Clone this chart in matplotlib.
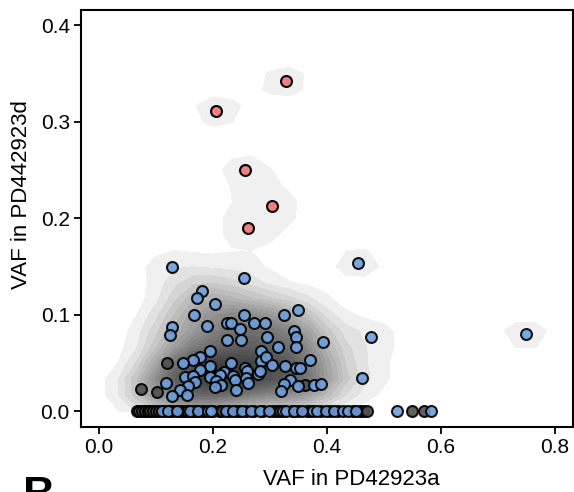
import matplotlib; matplotlib.use('Agg')

import matplotlib.pyplot as plt
import numpy as np

plt.rcParams['font.family'] = ['Liberation Sans', 'DejaVu Sans']

# variants found in both samples
blue_x = [0.128, 0.2545, 0.455, 0.749, 0.1815, 0.172, 0.204, 0.166, 0.2545, 0.3245,
          0.349, 0.128, 0.124, 0.1886, 0.2247, 0.2324, 0.247, 0.272, 0.2907, 0.343,
          0.346, 0.2254, 0.250, 0.2948, 0.393, 0.478, 0.345, 0.314, 0.285, 0.1944,
          0.178, 0.165, 0.1477, 0.2324, 0.285, 0.2937, 0.304, 0.3257, 0.345, 0.352,
          0.371, 0.194, 0.178, 0.219, 0.212, 0.2557, 0.260, 0.279, 0.282, 0.235,
          0.238, 0.1506, 0.165, 0.168, 0.194, 0.206, 0.2148, 0.203, 0.2574, 0.2615,
          0.241, 0.1564, 0.1419, 0.1536, 0.1273, 0.1173, 0.3345, 0.324, 0.32, 0.350,
          0.378, 0.39, 0.4618]
blue_y = [0.150, 0.138, 0.1535, 0.0797, 0.125, 0.117, 0.111, 0.100, 0.100, 0.100,
          0.105, 0.087, 0.0786, 0.0883, 0.091, 0.091, 0.0855, 0.0914, 0.091, 0.0835,
          0.077, 0.074, 0.074, 0.077, 0.0714, 0.077, 0.0666, 0.0666, 0.063, 0.0628,
          0.056, 0.0535, 0.050, 0.050, 0.0524, 0.0562, 0.0476, 0.0473, 0.0452, 0.0452,
          0.0528, 0.0466, 0.0424, 0.0404, 0.038, 0.0449, 0.0418, 0.039, 0.0414, 0.0369,
          0.0328, 0.0352, 0.0362, 0.030, 0.0352, 0.031, 0.0276, 0.0252, 0.0345, 0.0294,
          0.0224, 0.0259, 0.0224, 0.0166, 0.0155, 0.0294, 0.032, 0.0283, 0.0207, 0.0259,
          0.0276, 0.0283, 0.0345]

dark_x = [0.1185, 0.0736, 0.101, 0.362, 0.194]
dark_y = [0.050, 0.0231, 0.0197, 0.0276, 0.044]

red_x = [0.206, 0.3275, 0.257, 0.3035, 0.261]
red_y = [0.311, 0.342, 0.250, 0.2128, 0.190]

# VAF = 0 in PD442923d
row_dark_x = [0.066, 0.07, 0.075, 0.08, 0.085, 0.09, 0.095, 0.10, 0.105, 0.115,
              0.125, 0.13, 0.14, 0.145, 0.15, 0.155, 0.165, 0.17, 0.18, 0.185,
              0.2, 0.21, 0.215, 0.228, 0.24, 0.245, 0.258, 0.272, 0.288, 0.305,
              0.312, 0.318, 0.338, 0.35, 0.365, 0.37, 0.39, 0.405, 0.42, 0.445,
              0.458, 0.463, 0.47, 0.549, 0.571]
row_blue_x = [0.110, 0.1214, 0.136, 0.159, 0.174, 0.191, 0.197, 0.2236, 0.235, 0.251,
              0.267, 0.282, 0.298, 0.323, 0.329, 0.343, 0.357, 0.375, 0.382, 0.399,
              0.413, 0.428, 0.437, 0.451, 0.524, 0.583]

kx = np.array(blue_x + dark_x + red_x)
ky = np.array(blue_y + dark_y + red_y)


def bw(v):
    q75, q25 = np.percentile(v, [75, 25])
    return 1.06 * min(np.std(v, ddof=1), (q75 - q25) / 1.34) * len(v) ** (-0.2)


gx = np.linspace(0, 0.8, 25)
gy = np.linspace(0, 0.4, 25)
hx, hy = bw(kx), bw(ky)
ax_ = np.exp(-0.5 * ((gx[:, None] - kx[None, :]) / hx) ** 2) / (hx * np.sqrt(2 * np.pi))
ay_ = np.exp(-0.5 * ((gy[:, None] - ky[None, :]) / hy) ** 2) / (hy * np.sqrt(2 * np.pi))
dens = (ax_ @ ay_.T / len(kx)).T

single = 1.0 / (len(kx) * 2 * np.pi * hx * hy)
nlev = 24
levels = np.linspace(0.68 * single, dens.max() * 1.001, nlev + 1)
greys = [str(0.94 * (1 - 0.058) ** k) for k in range(nlev)]

fig = plt.figure(figsize=(5.74, 4.92), dpi=100)
ax = fig.add_axes([0.141, 0.1327, 0.857, 0.847])

ax.contourf(gx, gy, dens, levels=levels, colors=greys, zorder=1)

pt = dict(s=62, edgecolors='black', linewidths=1.5, zorder=3)
ax.scatter(row_dark_x, [0.0] * len(row_dark_x), color='#505050', alpha=0.9, **pt)
ax.scatter(row_blue_x, [0.0] * len(row_blue_x), color='#6f9fdc', alpha=0.9, **pt)
ax.scatter(dark_x, dark_y, color='#505050', alpha=0.9, **pt)
ax.scatter(blue_x, blue_y, color='#6f9fdc', alpha=0.9, **pt)
ax.scatter(red_x, red_y, color='#f08080', **pt)

ax.set_xlim(-0.032, 0.832)
ax.set_ylim(-0.016, 0.416)
ax.set_xticks([0.0, 0.2, 0.4, 0.6, 0.8])
ax.set_yticks([0.0, 0.1, 0.2, 0.3, 0.4])
ax.tick_params(direction='out', length=5, width=1.3, labelsize=15, pad=3)
for s in ax.spines.values():
    s.set_linewidth(1.5)
ax.set_xlabel("VAF in PD42923a", fontsize=16)
ax.set_ylabel("VAF in PD442923d", fontsize=16)
ax.xaxis.set_label_coords(0.549, -0.101)
ax.yaxis.set_label_coords(-0.1, 0.556)

fig.text(0.04, 0.033, "B", fontsize=32, fontweight='bold', va='top')

plt.savefig("out.png", dpi=100)
